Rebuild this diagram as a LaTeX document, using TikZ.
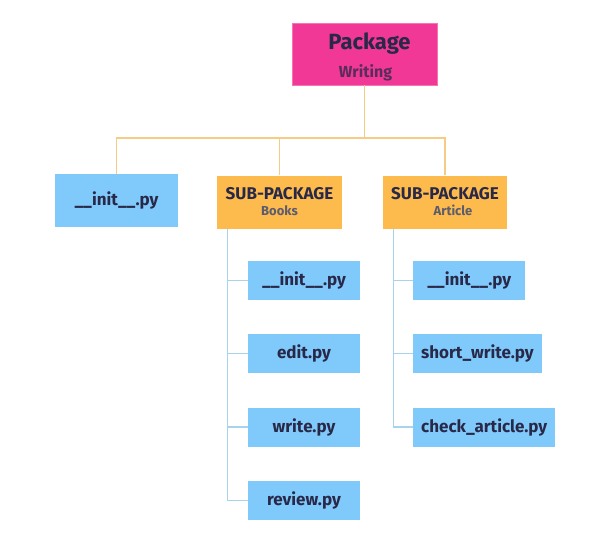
\documentclass[tikz,border=0pt]{standalone}
\usepackage{fontspec}
\setmainfont{Fira Sans}
\definecolor{pkgpink}{RGB}{241,56,150}
\definecolor{suborange}{RGB}{253,186,77}
\definecolor{fileblue}{RGB}{128,202,251}
\definecolor{txtdark}{RGB}{40,40,72}
\definecolor{txtsub}{RGB}{92,92,110}
\definecolor{lineorange}{RGB}{246,204,133}
\definecolor{lineblue}{RGB}{167,211,236}
\tikzset{
    pkg/.style={fill=pkgpink,draw=pkgpink!70!white,minimum width=145pt,minimum height=62pt,inner sep=0pt,align=center,text=txtdark},
    sub/.style={fill=suborange,minimum width=125pt,minimum height=53pt,inner sep=0pt,align=center,text=txtdark},
    file/.style={fill=fileblue,minimum width=112pt,minimum height=39pt,inner xsep=8pt,text=txtdark,font=\fontsize{17}{20}\selectfont\bfseries},
    oline/.style={draw=lineorange,line width=1.2pt},
    bline/.style={draw=lineblue,line width=1.2pt}
}
\begin{document}
\begin{tikzpicture}[x=1pt,y=-1pt]
        \fill[white] (0,0) rectangle (607,549);
        \useasboundingbox (0,0) rectangle (607,549);

        % верхний уровень
        \node[pkg] (root) at (364.5,54) {{\fontsize{22}{24}\selectfont\bfseries\rule{0pt}{22pt}\hspace*{10pt}Package}\\[9pt]{\fontsize{16}{16}\selectfont\bfseries\color{txtdark!75!pkgpink}\hspace*{2pt}Writing}};
        \node[file,minimum width=123pt,minimum height=53pt] (init) at (116.5,200.5) {\_\_init\_\_.py};
        \node[sub] (books) at (279.5,202) {{\fontsize{17}{18}\selectfont\bfseries SUB-PACKAGE}\\[4pt]{\fontsize{13}{14}\selectfont\bfseries\color{txtsub} Books}};
        \node[sub,minimum width=124pt] (article) at (445,202) {{\fontsize{17}{18}\selectfont\bfseries SUB-PACKAGE}\\[4pt]{\fontsize{13}{14}\selectfont\bfseries\color{txtsub}\hspace*{16pt}Article}};

        % Books
        \node[file] (binit) at (304,280.5) {\_\_init\_\_.py};
        \node[file] (bedit) at (304,353.5) {edit.py};
        \node[file] (bwrite) at (304,427) {write.py};
        \node[file] (breview) at (304,500.5) {review.py};

        % Article
        \node[file,anchor=west] (ainit) at (413,280.5) {\_\_init\_\_.py};
        \node[file,anchor=west] (ashort) at (413,353.5) {short\_write.py};
        \node[file,anchor=west] (acheck) at (413,427) {check\_article.py};

        % линии
        \coordinate (bus) at (364.5,138);
        \draw[oline] (root.south) -- (bus);
        \draw[oline] (bus) -| (init.north);
        \draw[oline] (bus) -| (books.north);
        \draw[oline] (bus) -| (article.north);

        \coordinate (btop) at ([xshift=11pt]books.south west);
        \draw[bline] (btop) |- (breview.west);
        \draw[bline] (btop |- binit.west) -- (binit.west);
        \draw[bline] (btop |- bedit.west) -- (bedit.west);
        \draw[bline] (btop |- bwrite.west) -- (bwrite.west);

        \coordinate (atop) at ([xshift=11pt]article.south west);
        \draw[bline] (atop) |- (acheck.west);
        \draw[bline] (atop |- ainit.west) -- (ainit.west);
        \draw[bline] (atop |- ashort.west) -- (ashort.west);
\end{tikzpicture}
\end{document}
